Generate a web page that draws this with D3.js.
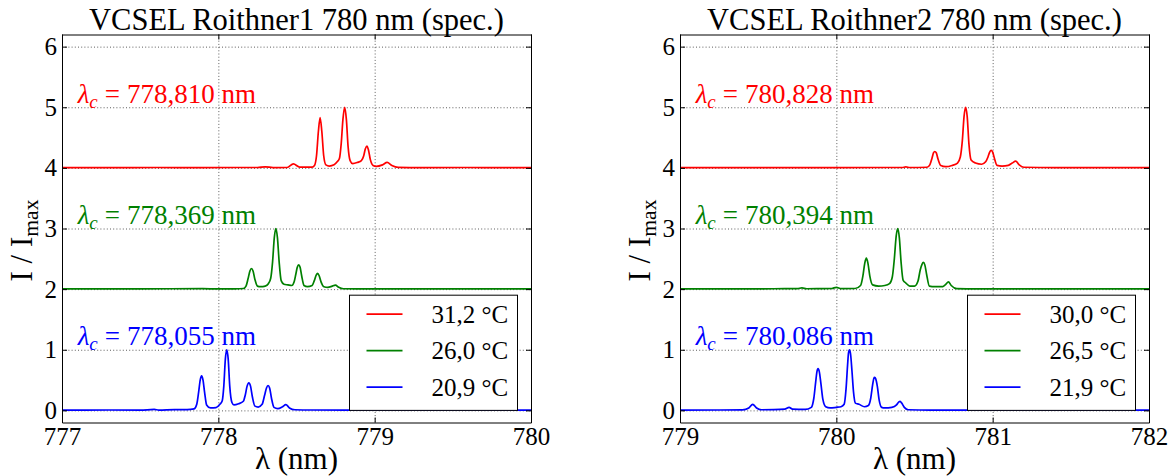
<!DOCTYPE html>
<html>
<head>
<meta charset="utf-8">
<script src="https://cdn.jsdelivr.net/npm/d3@7/dist/d3.min.js"></script>
<style>
  html, body { margin: 0; padding: 0; background: #fff; }
  svg { display: block; }
  svg text { font-family: "Liberation Serif", "Times New Roman", Times, "DejaVu Serif", serif; }
</style>
</head>
<body>
<svg id="chart" width="1174" height="476" font-family="Liberation Serif, Times New Roman, serif"></svg>
<script>
// ---------------- DATA ----------------
const titles = ["VCSEL Roithner1 780 nm (spec.)", "VCSEL Roithner2 780 nm (spec.)"];
const xDomains = [[777, 780], [779, 782]];
const xTicks = [[777, 778, 779, 780], [779, 780, 781, 782]];
const yTicks = [0, 1, 2, 3, 4, 5, 6];
const seriesColors = ["#ff0000", "#008000", "#0000ff"];
const seriesOffsets = [4, 2, 0];
const legendLabels = [["31,2 °C", "26,0 °C", "20,9 °C"], ["30,0 °C", "26,5 °C", "21,9 °C"]];
const centerLabels = [["778,810", "778,369", "778,055"], ["780,828", "780,394", "780,086"]];

// normalized spectra I/Imax, [wavelength nm, intensity]
const redL = [[777.00,0.005],[777.30,0.004],[777.60,0.006],[777.90,0.003],[778.10,0.006],[778.25,0.006],[778.30,0.018],[778.35,0.004],[778.44,0.006],[778.48,0.065],[778.52,0.012],[778.60,0.012],[778.615,0.04],[778.628,0.2],[778.640,0.6],[778.651,0.83],[778.662,0.6],[778.674,0.2],[778.688,0.05],[778.71,0.03],[778.74,0.05],[778.76,0.1],[778.775,0.16],[778.786,0.4],[778.797,0.8],[778.808,1.0],[778.819,0.8],[778.830,0.35],[778.843,0.12],[778.86,0.07],[778.89,0.09],[778.915,0.12],[778.93,0.2],[778.940,0.31],[778.95,0.36],[778.960,0.3],[778.972,0.14],[778.99,0.04],[779.01,0.025],[779.05,0.05],[779.08,0.09],[779.11,0.04],[779.15,0.008],[779.3,0.004],[779.6,0.006],[779.8,0.004],[780.0,0.005]];
const greenL = [[777.0,0.003],[777.5,0.004],[777.9,0.008],[778.0,0.003],[778.1,0.005],[778.16,0.01],[778.177,0.05],[778.190,0.17],[778.202,0.3],[778.212,0.34],[778.222,0.3],[778.234,0.16],[778.25,0.05],[778.27,0.04],[778.30,0.05],[778.32,0.09],[778.335,0.18],[778.347,0.45],[778.358,0.85],[778.368,1.0],[778.378,0.85],[778.389,0.45],[778.402,0.14],[778.42,0.08],[778.445,0.07],[778.47,0.06],[778.485,0.12],[778.496,0.25],[778.505,0.36],[778.514,0.40],[778.523,0.36],[778.533,0.22],[778.548,0.06],[778.57,0.04],[778.60,0.06],[778.614,0.14],[778.626,0.23],[778.635,0.26],[778.645,0.22],[778.657,0.12],[778.675,0.04],[778.70,0.03],[778.725,0.045],[778.749,0.067],[778.77,0.03],[778.80,0.006],[779.0,0.003],[779.5,0.004],[780.0,0.003]];
const blueL = [[777.0,0.005],[777.3,0.006],[777.5,0.004],[777.59,0.015],[777.62,0.005],[777.72,0.014],[777.80,0.012],[777.845,0.025],[777.862,0.1],[777.874,0.3],[777.884,0.5],[777.893,0.57],[777.902,0.5],[777.912,0.3],[777.925,0.09],[777.95,0.04],[777.985,0.045],[778.01,0.1],[778.025,0.16],[778.035,0.4],[778.045,0.85],[778.054,1.0],[778.063,0.85],[778.073,0.4],[778.087,0.13],[778.10,0.09],[778.13,0.11],[778.16,0.15],[778.172,0.25],[778.184,0.4],[778.195,0.455],[778.206,0.4],[778.218,0.22],[778.234,0.07],[778.255,0.055],[778.28,0.1],[778.296,0.25],[778.308,0.37],[778.318,0.41],[778.328,0.37],[778.34,0.2],[778.356,0.05],[778.38,0.03],[778.41,0.06],[778.432,0.095],[778.455,0.04],[778.49,0.01],[778.6,0.006],[779.0,0.004],[779.5,0.005],[780.0,0.004]];

const redR = [[779.0,0.004],[779.5,0.004],[780.0,0.005],[780.3,0.006],[780.42,0.006],[780.445,0.015],[780.47,0.006],[780.58,0.01],[780.598,0.05],[780.612,0.16],[780.622,0.25],[780.630,0.27],[780.639,0.25],[780.650,0.15],[780.668,0.04],[780.70,0.02],[780.74,0.04],[780.775,0.08],[780.793,0.18],[780.806,0.45],[780.817,0.85],[780.827,1.0],[780.837,0.85],[780.848,0.4],[780.862,0.13],[780.89,0.08],[780.93,0.06],[780.955,0.1],[780.97,0.18],[780.981,0.26],[780.99,0.29],[781.0,0.26],[781.011,0.16],[781.028,0.04],[781.06,0.03],[781.10,0.04],[781.125,0.08],[781.148,0.11],[781.17,0.05],[781.20,0.01],[781.4,0.004],[781.7,0.005],[782.0,0.004]];
const greenR = [[779.0,0.003],[779.3,0.004],[779.6,0.006],[779.75,0.008],[779.78,0.02],[779.81,0.006],[779.9,0.008],[779.97,0.01],[780.0,0.03],[780.03,0.008],[780.12,0.01],[780.155,0.06],[780.170,0.22],[780.182,0.43],[780.192,0.51],[780.202,0.43],[780.214,0.22],[780.232,0.07],[780.27,0.05],[780.31,0.06],[780.34,0.09],[780.358,0.2],[780.371,0.5],[780.383,0.88],[780.393,1.0],[780.403,0.85],[780.414,0.45],[780.427,0.15],[780.445,0.1],[780.47,0.05],[780.50,0.05],[780.522,0.13],[780.537,0.32],[780.548,0.41],[780.557,0.44],[780.566,0.4],[780.577,0.25],[780.595,0.05],[780.63,0.04],[780.68,0.04],[780.70,0.08],[780.717,0.12],[780.735,0.06],[780.77,0.008],[780.9,0.004],[781.2,0.004],[781.6,0.003],[782.0,0.004]];
const blueR = [[779.0,0.003],[779.25,0.006],[779.4,0.008],[779.44,0.04],[779.465,0.1],[779.49,0.04],[779.52,0.01],[779.6,0.012],[779.67,0.02],[779.698,0.05],[779.72,0.02],[779.80,0.015],[779.84,0.05],[779.856,0.2],[779.868,0.47],[779.876,0.64],[779.883,0.69],[779.891,0.64],[779.901,0.45],[779.914,0.18],[779.932,0.06],[779.96,0.04],[780.0,0.05],[780.03,0.06],[780.05,0.1],[780.062,0.35],[780.072,0.75],[780.078,0.95],[780.084,1.0],[780.091,0.93],[780.100,0.65],[780.11,0.3],[780.122,0.12],[780.145,0.1],[780.18,0.06],[780.205,0.08],[780.22,0.2],[780.232,0.42],[780.240,0.53],[780.245,0.545],[780.252,0.52],[780.262,0.4],[780.274,0.17],[780.29,0.05],[780.31,0.04],[780.355,0.05],[780.385,0.09],[780.400,0.14],[780.408,0.15],[780.418,0.12],[780.435,0.05],[780.46,0.01],[780.6,0.004],[781.0,0.004],[781.5,0.003],[782.0,0.004]];

const panelSeries = [[redL, greenL, blueL], [redR, greenR, blueR]];

// ---------------- LAYOUT ----------------
const FONT = '"Liberation Serif", "Times New Roman", Times, serif';
const svg = d3.select("#chart");
const panelLefts = [62, 680];
const plotW = 469, plotTop = 34.5, plotBottom = 422.5;
const tickFont = 25, titleFont = 30.5, labelFont = 31, annFont = 27, legFont = 25;

panelLefts.forEach((left, p) => {
  const x = d3.scaleLinear().domain(xDomains[p]).range([left, left + plotW]);
  const y = d3.scaleLinear().domain([-0.2, 6.2]).range([plotBottom, plotTop]);
  const g = svg.append("g").attr("font-family", FONT);

  const clipId = "clip" + p;
  svg.append("clipPath").attr("id", clipId).append("rect")
    .attr("x", left).attr("y", plotTop).attr("width", plotW).attr("height", plotBottom - plotTop);

  // grid
  g.append("g").attr("transform", `translate(0,${plotBottom})`)
    .call(d3.axisBottom(x).tickValues(xTicks[p]).tickSize(-(plotBottom - plotTop)).tickFormat(""))
    .call(s => s.select(".domain").remove())
    .call(s => s.selectAll("line").attr("stroke", "#333").attr("stroke-width", 0.8).attr("stroke-dasharray", "1,2.2"));
  g.append("g").attr("transform", `translate(${left},0)`)
    .call(d3.axisLeft(y).tickValues(yTicks).tickSize(-plotW).tickFormat(""))
    .call(s => s.select(".domain").remove())
    .call(s => s.selectAll("line").attr("stroke", "#333").attr("stroke-width", 0.8).attr("stroke-dasharray", "1,2.2"));

  // series
  const line = d3.line().x(d => x(d[0])).curve(d3.curveMonotoneX);
  panelSeries[p].forEach((ser, i) => {
    g.append("path")
      .attr("clip-path", `url(#${clipId})`)
      .attr("d", line.y(d => y(d[1] + seriesOffsets[i]))(ser))
      .attr("fill", "none").attr("stroke", seriesColors[i]).attr("stroke-width", 1.7)
      .attr("stroke-linejoin", "round");
  });

  // axes (inward ticks on all sides)
  const styleAxis = s => {
    s.attr("font-family", FONT);
    s.select(".domain").attr("stroke", "#000").attr("stroke-width", 1);
    s.selectAll(".tick line").attr("stroke", "#000").attr("stroke-width", 1);
    s.selectAll("text").attr("font-family", FONT).attr("font-size", tickFont).attr("fill", "#000");
  };
  g.append("g").attr("transform", `translate(0,${plotBottom})`)
    .call(d3.axisBottom(x).tickValues(xTicks[p]).tickSize(-5).tickSizeOuter(0).tickPadding(5).tickFormat(d3.format("d")))
    .call(styleAxis);
  g.append("g").attr("transform", `translate(0,${plotTop})`)
    .call(d3.axisTop(x).tickValues(xTicks[p]).tickSize(-5).tickSizeOuter(0).tickFormat(""))
    .call(styleAxis);
  g.append("g").attr("transform", `translate(${left},0)`)
    .call(d3.axisLeft(y).tickValues(yTicks).tickSize(-5).tickSizeOuter(0).tickPadding(5).tickFormat(d3.format("d")))
    .call(styleAxis);
  g.append("g").attr("transform", `translate(${left + plotW},0)`)
    .call(d3.axisRight(y).tickValues(yTicks).tickSize(-5).tickSizeOuter(0).tickFormat(""))
    .call(styleAxis);

  // title
  g.append("text").attr("x", left + plotW / 2).attr("y", 29.5).attr("text-anchor", "middle")
    .attr("font-family", FONT).attr("font-size", titleFont).text(titles[p]);

  // x label
  g.append("text").attr("x", left + plotW / 2).attr("y", 469).attr("text-anchor", "middle")
    .attr("font-family", FONT).attr("font-size", labelFont).text("λ (nm)");

  // y label
  const yl = g.append("text").attr("transform", `translate(${left - 30},${(plotTop + plotBottom) / 2 + 12}) rotate(-90)`)
    .attr("text-anchor", "middle").attr("font-family", FONT).attr("font-size", labelFont);
  yl.append("tspan").text("I / I");
  yl.append("tspan").attr("dy", 6).attr("font-size", labelFont * 0.7).text("max");

  // annotations
  seriesOffsets.forEach((off, i) => {
    const t = g.append("text").attr("x", x(xDomains[p][0] + 0.1)).attr("y", y(off + 1.075))
      .attr("font-family", FONT).attr("font-size", annFont).attr("fill", seriesColors[i]);
    t.append("tspan").attr("font-style", "italic").text("λ");
    t.append("tspan").attr("font-style", "italic").attr("font-size", annFont * 0.7).attr("dy", 5).text("c");
    t.append("tspan").attr("dy", -5).attr("dx", 7).text("=");
    t.append("tspan").attr("dx", 7).text(centerLabels[p][i] + " nm");
  });

  // legend
  const legW = 168, legRight = left + plotW - 13.5, legBottom = y(0), legTop = y(1.9);
  const lg = g.append("g").attr("transform", `translate(${legRight - legW},${legTop})`);
  lg.append("rect").attr("width", legW).attr("height", legBottom - legTop)
    .attr("fill", "#fff").attr("stroke", "#000").attr("stroke-width", 1);
  legendLabels[p].forEach((lab, i) => {
    const cy = 19 + i * 36.5;
    lg.append("line").attr("x1", 17).attr("x2", 53).attr("y1", cy).attr("y2", cy)
      .attr("stroke", seriesColors[i]).attr("stroke-width", 1.7);
    lg.append("text").attr("x", 82).attr("y", cy).attr("dy", "0.35em")
      .attr("font-family", FONT).attr("font-size", legFont).text(lab);
  });
});
</script>
</body>
</html>
